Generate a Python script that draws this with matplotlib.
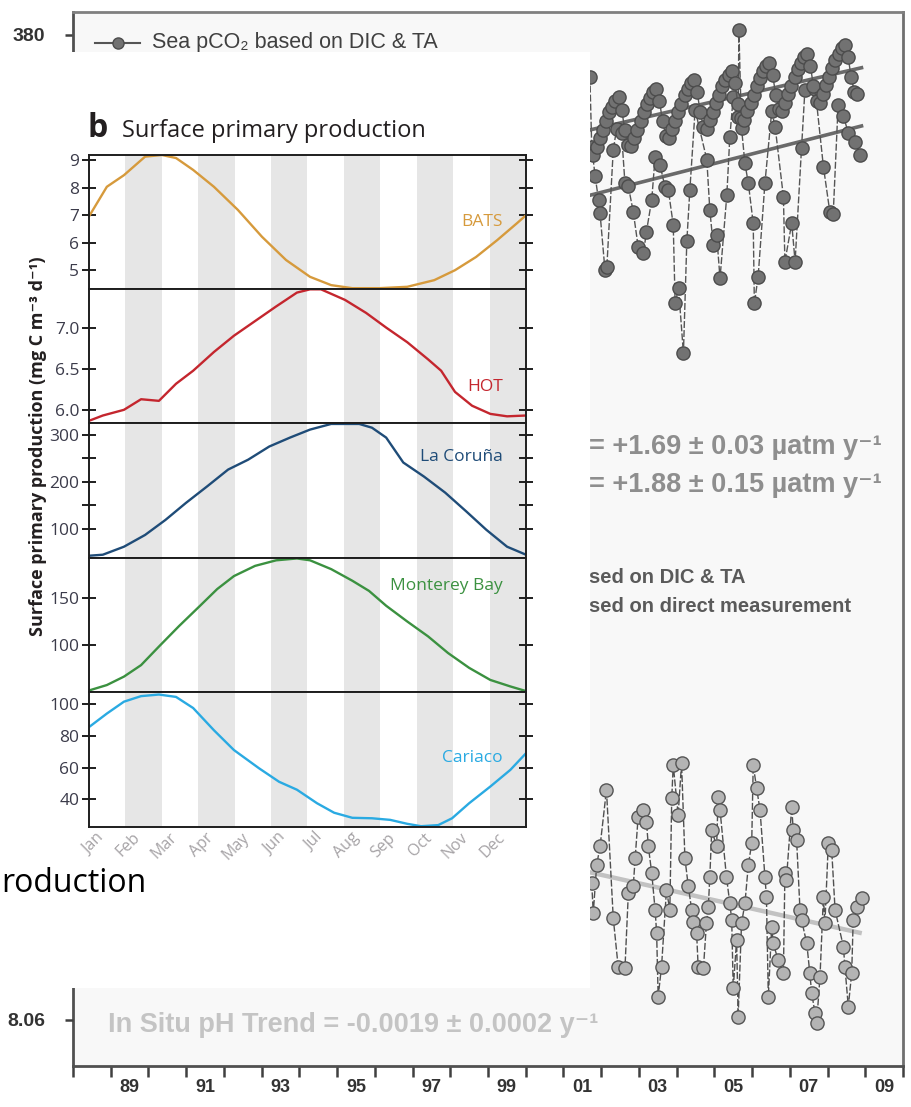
import numpy as np
import matplotlib
matplotlib.use('Agg')
import matplotlib.pyplot as plt
from matplotlib.patches import Rectangle

# ---------------- data: background time series (HOT / ALOHA) ----------------
bg_tick_years = list(range(1988, 2011))
bg_year_labels = ['89', '91', '93', '95', '97', '99', '01', '03', '05', '07', '09']
bg_label_pos = [1989.5, 1991.5, 1993.5, 1995.5, 1997.5, 1999.5, 2001.5, 2003.5, 2005.5, 2007.5, 2009.5]

# monthly atmospheric pCO2 (Sep 2001 - Oct 2008)
atm_years = np.arange(2001.71, 2008.80, 1 / 12)
atm_pco2 = [357.2, 356.9, 358.5, 360.1,
            361.8, 363.4, 365.1, 366.2, 367.3, 368.0, 365.6, 361.8, 358.9, 358.6, 360.2, 361.8,
            363.5, 365.1, 366.8, 367.9, 369.0, 369.7, 367.3, 363.5, 360.6, 360.2, 361.9, 363.5,
            365.2, 366.8, 368.4, 369.6, 370.7, 371.4, 369.0, 365.2, 362.3, 361.9, 363.6, 365.2,
            366.9, 368.5, 370.1, 371.3, 372.4, 373.1, 370.7, 366.8, 364.0, 363.6, 365.3, 366.9,
            368.5, 370.2, 371.8, 373.0, 374.1, 374.7, 372.4, 368.5, 365.7, 365.3, 367.0, 368.6,
            370.2, 371.9, 373.5, 374.7, 375.8, 376.4, 374.1, 370.2, 367.4, 367.0, 368.6, 370.3,
            371.9, 373.6, 375.2, 376.3, 377.5, 378.1, 375.8, 371.9, 369.1, 368.7]
atm_trend_years = [1988.8, 2008.9]
atm_trend_vals = [340.3, 373.7]

sea_years = [2001.70, 2001.75, 2001.84, 2001.93, 2001.97, 2002.10, 2002.15, 2002.32, 2002.41, 2002.54,
             2002.63, 2002.72, 2002.85, 2002.98, 2003.12, 2003.20, 2003.34, 2003.43, 2003.56, 2003.69,
             2003.78, 2003.91, 2003.96, 2004.05, 2004.18, 2004.27, 2004.35, 2004.49, 2004.80, 2004.88,
             2004.97, 2005.06, 2005.15, 2005.33, 2005.41, 2005.50, 2005.63, 2005.65, 2005.72, 2005.81,
             2005.90, 2006.03, 2006.06, 2006.16, 2006.34, 2006.52, 2006.61, 2006.83, 2006.87, 2007.05,
             2007.14, 2007.31, 2007.40, 2007.67, 2007.89, 2008.06, 2008.15, 2008.28, 2008.42, 2008.55,
             2008.73, 2008.86]
sea_pco2 = [372.0, 358.5, 352.8, 348.3, 345.7, 334.8, 335.4, 357.9, 362.0, 361.1,
            351.5, 350.9, 346.0, 339.3, 338.0, 342.2, 348.3, 356.6, 355.0, 350.8,
            350.2, 343.5, 328.4, 331.3, 318.8, 340.3, 350.2, 365.6, 356.0, 346.3,
            339.6, 341.6, 333.2, 349.2, 360.4, 368.1, 364.3, 381.0, 362.1, 355.3,
            351.5, 343.8, 328.4, 333.5, 351.5, 365.3, 362.4, 348.9, 336.4, 343.8,
            336.4, 358.2, 369.4, 369.7, 354.7, 346.0, 345.5, 366.5, 364.5, 361.1,
            359.5, 357.0]
sea_trend_years = [1988.8, 2008.9]
sea_trend_vals = [325.3, 362.5]

ph_years = [2001.75, 2001.79, 2001.88, 2001.97, 2002.14, 2002.32, 2002.45, 2002.63, 2002.72, 2002.85,
            2002.90, 2002.98, 2003.12, 2003.20, 2003.25, 2003.34, 2003.43, 2003.47, 2003.51, 2003.60,
            2003.73, 2003.82, 2003.87, 2003.91, 2004.04, 2004.13, 2004.22, 2004.31, 2004.40, 2004.44,
            2004.53, 2004.57, 2004.71, 2004.79, 2004.84, 2004.88, 2004.93, 2005.06, 2005.10, 2005.15,
            2005.32, 2005.41, 2005.46, 2005.50, 2005.59, 2005.63, 2005.72, 2005.81, 2005.90, 2005.99,
            2006.03, 2006.12, 2006.21, 2006.34, 2006.38, 2006.43, 2006.52, 2006.56, 2006.69, 2006.83,
            2006.87, 2006.91, 2007.05, 2007.09, 2007.18, 2007.27, 2007.31, 2007.45, 2007.53, 2007.58,
            2007.67, 2007.71, 2007.80, 2007.89, 2007.93, 2008.02, 2008.11, 2008.20, 2008.42, 2008.46,
            2008.55, 2008.64, 2008.68, 2008.77, 2008.90]
ph_vals = [8.0907, 8.0840, 8.0948, 8.0990, 8.1117, 8.0829, 8.0720, 8.0716, 8.0885, 8.0900,
           8.0963, 8.1057, 8.1072, 8.1046, 8.0990, 8.0930, 8.0847, 8.0795, 8.0652, 8.0720,
           8.0892, 8.0847, 8.1098, 8.1173, 8.1061, 8.1177, 8.0963, 8.0900, 8.0847, 8.0821,
           8.0795, 8.0720, 8.0716, 8.0817, 8.0855, 8.0922, 8.1027, 8.0990, 8.1102, 8.1072,
           8.0922, 8.0862, 8.0825, 8.0671, 8.0780, 8.0607, 8.0817, 8.0862, 8.0948, 8.0997,
           8.1173, 8.1121, 8.1072, 8.0922, 8.0877, 8.0652, 8.0810, 8.0772, 8.0735, 8.0705,
           8.0930, 8.0915, 8.1079, 8.1027, 8.1004, 8.0847, 8.0825, 8.0772, 8.0705, 8.0660,
           8.0615, 8.0593, 8.0697, 8.0877, 8.0817, 8.0997, 8.0982, 8.0847, 8.0765, 8.0720,
           8.0630, 8.0705, 8.0825, 8.0855, 8.0873]
ph_trend_years = [1988.8, 2008.85]
ph_trend_vals = [8.1177, 8.0796]

# ---------------- data: overlay panel (b) ----------------
months = ['Jan', 'Feb', 'Mar', 'Apr', 'May', 'Jun', 'Jul', 'Aug', 'Sep', 'Oct', 'Nov', 'Dec']

bats_x = [0.02, 0.49, 0.96, 1.54, 2.0, 2.39, 2.86, 3.43, 4.09, 4.75, 5.41, 6.07, 6.65, 7.23, 7.97,
          8.74, 9.48, 10.05, 10.63, 11.21, 11.76, 12.0]
bats_y = [7.0, 8.03, 8.45, 9.12, 9.18, 9.07, 8.64, 8.03, 7.19, 6.22, 5.38, 4.77, 4.47, 4.36, 4.36,
          4.41, 4.65, 5.01, 5.49, 6.1, 6.72, 7.0]

hot_x = [0.03, 0.38, 0.96, 1.43, 1.92, 2.39, 2.86, 3.43, 3.98, 4.56, 5.14, 5.71, 6.07, 6.37, 7.03,
         7.61, 8.16, 8.74, 9.31, 9.67, 10.05, 10.52, 11.02, 11.48, 12.0]
hot_y = [5.87, 5.93, 6.0, 6.13, 6.11, 6.32, 6.48, 6.71, 6.91, 7.09, 7.27, 7.44, 7.48, 7.48, 7.35,
         7.19, 7.01, 6.83, 6.62, 6.48, 6.22, 6.05, 5.95, 5.92, 5.93]

coruna_x = [0.03, 0.38, 0.96, 1.54, 2.1, 2.66, 3.24, 3.82, 4.37, 4.95, 5.52, 6.07, 6.65, 7.42, 7.77,
            8.16, 8.63, 9.2, 9.78, 10.36, 10.91, 11.48, 12.0]
coruna_y = [43, 45, 62, 87, 119, 155, 190, 226, 247, 275, 294, 311, 323, 323, 315,
            294, 241, 211, 177, 137, 98, 62, 45]

monterey_x = [0.03, 0.49, 0.96, 1.43, 1.92, 2.47, 3.05, 3.52, 3.98, 4.56, 5.14, 5.71, 6.07, 6.65,
              7.23, 7.69, 8.16, 8.74, 9.31, 9.86, 10.44, 11.02, 11.57, 12.0]
monterey_y = [51, 56.5, 65.6, 78, 98, 120, 142, 160, 174, 185, 191, 193, 191, 181.5,
              169, 158, 142, 125, 109, 91, 75, 62, 55, 50]

cariaco_x = [0.03, 0.49, 0.96, 1.43, 1.92, 2.39, 2.86, 3.43, 3.98, 4.67, 5.22, 5.71, 6.26, 6.73,
             7.23, 7.77, 8.27, 8.74, 9.12, 9.59, 9.97, 10.44, 11.02, 11.57, 12.0]
cariaco_y = [86, 94, 101.5, 105, 106, 104.5, 97.5, 83.5, 71, 59.5, 51, 46, 37.5, 31.5,
             28.3, 28, 27, 24.5, 23, 23.7, 28, 37.5, 48, 58.5, 69]

site_names = ['BATS', 'HOT', 'La Coruña', 'Monterey Bay', 'Cariaco']
site_x = [bats_x, hot_x, coruna_x, monterey_x, cariaco_x]
site_y = [bats_y, hot_y, coruna_y, monterey_y, cariaco_y]
site_major = [[5, 6, 7, 8, 9], [6.0, 6.5, 7.0], [100, 200, 300], [100, 150], [40, 60, 80, 100]]
site_major_lbl = [['5', '6', '7', '8', '9'], ['6.0', '6.5', '7.0'], ['100', '200', '300'],
                  ['100', '150'], ['40', '60', '80', '100']]
site_minor = [[], [], [150, 250], [], []]

# ---------------- styling / layout ----------------
W, H = 912, 1107
site_colors = ['#d69a3c', '#c4262e', '#1f4c78', '#3b9140', '#2aaae2']
site_ylims = [(4.33, 9.18), (5.838, 7.484), (38, 325), (49, 193.5), (22.5, 107.6)]
site_lbl_y = [0.50, 0.27, 0.75, 0.79, 0.51]
panel_edges = [155, 289, 423, 558, 692, 827]
PX0, PX1 = 89, 526

plt.rcParams['font.family'] = ['Liberation Sans', 'DejaVu Sans']
fig = plt.figure(figsize=(W / 100, H / 100), dpi=100)
fig.patch.set_facecolor('white')


def frac(x0, y0, x1, y1):
    return [x0 / W, 1 - y1 / H, (x1 - x0) / W, (y1 - y0) / H]


# ---------------- background chart ----------------
ax = fig.add_axes(frac(73, 12, 903, 1066))
ax.set_facecolor('#f8f8f8')
ax.set_xlim(1988, 2010)
ax.set_ylim(181.73, 384.42)
for s in ax.spines.values():
    s.set_color('#505050')
    s.set_linewidth(2.0)
ax.spines['top'].set_color('#808080')
ax.spines['right'].set_color('#707070')
ax.set_xticks(bg_tick_years, [''] * len(bg_tick_years))
ax.set_xticks(bg_label_pos, bg_year_labels, minor=True)
ax.tick_params(axis='x', which='major', direction='out', length=8, width=1.8, color='#404040')
ax.tick_params(axis='x', which='minor', length=0, pad=9, labelsize=13, labelcolor='#333333')
for t in ax.get_xticklabels(minor=True):
    t.set_fontweight('bold')
ax.set_yticks([380], ['380'])
ax.tick_params(axis='y', direction='out', length=6, width=1.8, color='#404040',
               labelsize=14, labelcolor='#333333', pad=14)
for t in ax.get_yticklabels():
    t.set_fontweight('bold')

ax.plot(atm_trend_years, atm_trend_vals, color='#6a6a6a', lw=2.6, zorder=2)
ax.plot(sea_trend_years, sea_trend_vals, color='#6a6a6a', lw=2.6, zorder=2)
ax.plot(sea_years, sea_pco2, color='#555555', lw=1.0, ls=(0, (5, 1.5)), marker='o', ms=9.5,
        mfc='#727272', mec='#4c4c4c', mew=1.0, zorder=3)
ax.plot(atm_years, atm_pco2, color='#555555', lw=1.0, marker='o', ms=9.5,
        mfc='#727272', mec='#4c4c4c', mew=1.0, zorder=4)

ax.plot([0.027, 0.081], [0.9706, 0.9706], transform=ax.transAxes, color='#555555', lw=1.5)
ax.plot([0.054], [0.9706], transform=ax.transAxes, marker='o', ms=8, mfc='#727272',
        mec='#4c4c4c')
ax.text(0.095, 0.9706, 'Sea pCO₂ based on DIC & TA', transform=ax.transAxes, fontsize=15.5,
        color='#404040', va='center')

# visible (uncovered) parts of the legend / trend texts
ax.text(0.975, 0.587, '= +1.69 ± 0.03 µatm y⁻¹', transform=ax.transAxes,
        fontsize=19.5, fontweight='bold', color='#8e8e8e', ha='right', va='center')
ax.text(0.975, 0.551, '= +1.88 ± 0.15 µatm y⁻¹', transform=ax.transAxes,
        fontsize=19.5, fontweight='bold', color='#8e8e8e', ha='right', va='center')
ax.text(0.622, 0.463, 'sed on DIC & TA', transform=ax.transAxes,
        fontsize=14.5, fontweight='bold', color='#5a5a5a', ha='left', va='center')
ax.text(0.622, 0.4355, 'sed on direct measurement', transform=ax.transAxes,
        fontsize=14.5, fontweight='bold', color='#5a5a5a', ha='left', va='center')

axp = fig.add_axes(frac(73, 12, 903, 1066), sharex=ax, zorder=0.5)
axp.patch.set_visible(False)
for s in axp.spines.values():
    s.set_visible(False)
axp.set_ylim(8.04966, 8.28651)
axp.set_yticks([8.06], ['8.06'])
axp.tick_params(axis='y', direction='out', length=6, width=1.8, color='#404040',
                labelsize=14, labelcolor='#333333', pad=14)
for t in axp.get_yticklabels():
    t.set_fontweight('bold')
axp.tick_params(axis='x', which='both', length=0, labelbottom=False)
axp.plot(ph_trend_years, ph_trend_vals, color='#c2c2c2', lw=3.2, zorder=2)
axp.plot(ph_years, ph_vals, color='#505050', lw=1.0, ls=(0, (5, 1.5)), marker='o', ms=9.5,
         mfc='#b4b4b4', mec='#555555', mew=1.0, zorder=3)
axp.text(0.042, 0.039, 'In Situ pH Trend = -0.0019 ± 0.0002 y⁻¹', transform=axp.transAxes,
         fontsize=19.5, fontweight='bold', color='#c4c4c4', ha='left', va='center')

# ---------------- white overlay ----------------
fig.add_artist(Rectangle((0, 1 - 988 / H), 590 / W, (988 - 52) / H, transform=fig.transFigure,
                         facecolor='white', edgecolor='none', zorder=1))

ofam = ['Open Sans', 'DejaVu Sans']
fig.text(88 / W, 1 - 137 / H, 'b', fontsize=23, fontweight='bold', color='#231f20',
         family=ofam, va='baseline', zorder=3)
fig.text(122 / W, 1 - 137 / H, 'Surface primary production', fontsize=17, color='#231f20',
         family=ofam, va='baseline', zorder=3)
fig.text(38 / W, 1 - 446 / H, 'Surface primary production (mg C m⁻³ d⁻¹)', rotation=90,
         fontsize=13, fontweight='bold', color='#231f20', family=ofam,
         ha='center', va='center', zorder=3)
fig.text(1 / W, 1 - 884 / H, 'roduction', fontsize=23, color='black', family=ofam,
         ha='left', va='center', zorder=3)

for i in range(5):
    pa = fig.add_axes(frac(PX0, panel_edges[i], PX1, panel_edges[i + 1]), zorder=2)
    pa.set_facecolor('white')
    pa.set_xlim(0, 12)
    pa.set_ylim(*site_ylims[i])
    for k in range(1, 12, 2):
        pa.axvspan(k, k + 1, color='#e6e6e6', lw=0, zorder=0)
    pa.plot(site_x[i], site_y[i], color=site_colors[i], lw=1.7, zorder=2)
    pa.text(0.947, site_lbl_y[i], site_names[i], transform=pa.transAxes, ha='right',
            va='center', fontsize=12.5, color=site_colors[i], family=ofam)
    for s in pa.spines.values():
        s.set_color('#1e1e1e')
        s.set_linewidth(1.4)
    pa.set_yticks(site_major[i], site_major_lbl[i])
    pa.set_yticks(site_minor[i], minor=True)
    pa.tick_params(axis='y', which='both', direction='inout', length=10, width=1.4,
                   left=True, right=True, color='#1e1e1e', labelsize=12.5, labelcolor='#3b3b4a',
                   pad=2)
    for t in pa.get_yticklabels():
        t.set_family(ofam)
    pa.set_xticks([m + 0.5 for m in range(12)])
    if i == 4:
        pa.set_xticklabels(months, rotation=45, ha='right', va='top', fontsize=11.5,
                           color='#a6a3a6', family=ofam)
    else:
        pa.set_xticklabels([''] * 12)
    pa.tick_params(axis='x', length=0, pad=2)

fig.savefig('out.png', dpi=100, facecolor='white')
